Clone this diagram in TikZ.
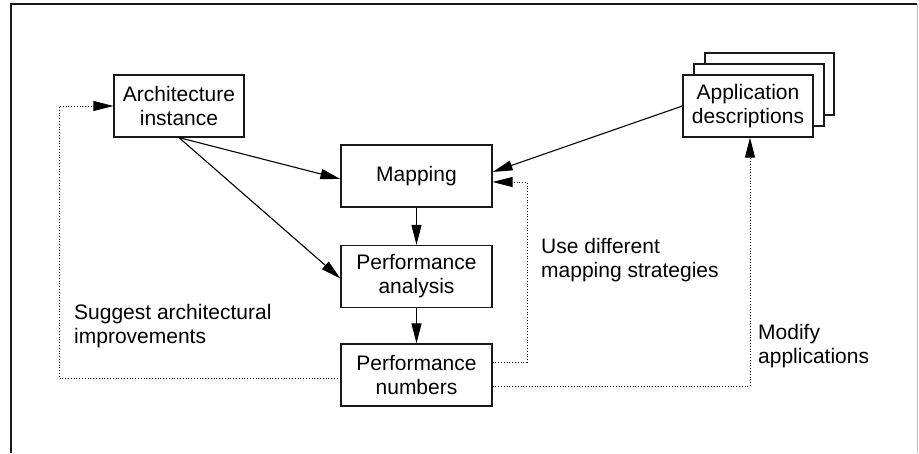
\documentclass[tikz,border=0pt]{standalone}
\usepackage{fontspec}
\setmainfont{Liberation Sans}
\usetikzlibrary{arrows.meta}
\begin{document}
\begin{tikzpicture}[x=1pt,y=-1pt,
  box/.style={draw=black!90,line width=1.2pt,fill=white,minimum width=130pt,minimum height=62pt,inner sep=0pt,align=center,font=\fontsize{21}{24}\selectfont},
  pbox/.style={box,minimum width=151pt},
  lbl/.style={inner sep=0pt,align=left,anchor=west,font=\fontsize{21}{24}\selectfont},
  arr/.style={line width=1.1pt,-{Triangle[length=20pt,width=10pt]}},
  dot/.style={line width=1pt,dash pattern=on 0.9pt off 1.9pt,-{Triangle[length=20pt,width=10pt]}},
  dotl/.style={line width=1pt,dash pattern=on 0.9pt off 1.9pt}]
\useasboundingbox (0,0) rectangle (919,453);
% frame
\draw[line width=1.3pt,black!90] (11,453) -- (11,4) -- (917,4);
\draw[line width=1pt,black!25] (917,4) -- (917,453);
% nodes
\node[box] (arch) at (179,106) {Architecture\\instance};
\draw[line width=1.2pt,draw=black!90,fill=white] (705,53) rectangle (834,115);
\draw[line width=1.2pt,draw=black!90,fill=white] (694,64) rectangle (824,126);
\node[box] (app) at (748,106) {Application\\descriptions};
\node[pbox] (map) at (416.5,176) {Mapping};
\node[pbox] (pa) at (416.5,276.5) {Performance\\analysis};
\node[pbox] (pn) at (416.5,375) {Performance\\numbers};
% solid arrows
\draw[arr] (arch.south) -- ([yshift=-3pt]map.west);
\draw[arr] (arch.south) -- ([yshift=-2pt]pa.west);
\draw[arr] (app.west) -- ([yshift=4pt]map.east);
\draw[arr] (map) -- (pa);
\draw[arr] (pa) -- (pn);
% dotted feedback
\coordinate (c1) at (527,362);
\coordinate (c2) at (527,182);
\draw[dot] ([yshift=13pt]pn.east) -- (c1) -- (c2) -- ([yshift=-6pt]map.east);
\coordinate (d1) at (750,386);
\draw[dot] ([yshift=-11pt]pn.east) -- (d1) -- ([xshift=2pt]app.south);
\coordinate (e1) at (59,378);
\coordinate (e2) at (59,106);
\draw[dot] ([yshift=-3pt]pn.west) -- (e1) -- (e2) -- (arch.west);
% labels
\node[lbl] (l1) at (74,326.5) {Suggest architectural\\improvements};
\node[lbl] (l2) at (541,260) {Use different\\mapping strategies};
\node[lbl] (l3) at (758,346) {Modify\\applications};
\end{tikzpicture}
\end{document}
